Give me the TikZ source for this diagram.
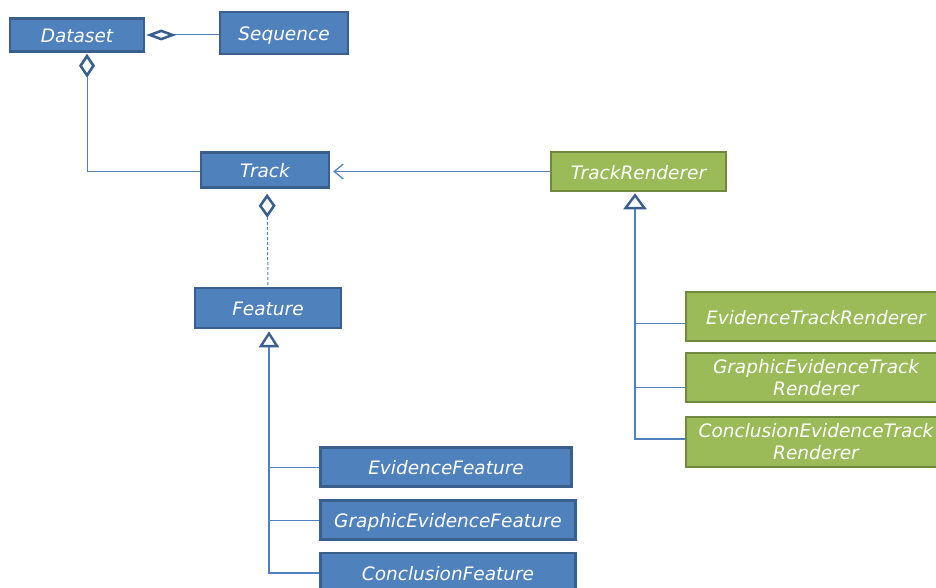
\documentclass[tikz,border=0pt]{standalone}
\usepackage{fontspec}
\setmainfont{DejaVu Sans}
\usetikzlibrary{arrows.meta}
\definecolor{clsblue}{HTML}{4F81BD}
\definecolor{clsblueedge}{HTML}{3A5F8B}
\definecolor{clsgreen}{HTML}{9BBB59}
\definecolor{clsgreenedge}{HTML}{71893F}
\definecolor{linkblue}{HTML}{4F81BD}
\definecolor{tipblue}{HTML}{3A5F8F}
\tikzset{
  cls/.style={draw=clsblueedge, fill=clsblue, line width=2.5pt, text=white,
    font=\fontsize{18.5}{22}\selectfont\itshape, inner sep=0pt, align=center},
  rcls/.style={cls, draw=clsgreenedge, fill=clsgreen},
  oneline/.style={text height=15pt, text depth=0pt},
  link/.style={draw=linkblue, line width=1pt},
  aggr/.style n args={2}{link, {Diamond[open, color=tipblue, line width=2.6pt, length=#1, width=#2]}-},
  gen/.style={link, line width=1.5pt, {Triangle[open, color=tipblue, line width=2.4pt, length=16pt, width=#1]}-},
  dep/.style={link, {Straight Barb[color=linkblue, line width=1.3pt, length=9pt, width=15pt]}-}
}
\begin{document}
\begin{tikzpicture}[x=1pt, y=-1pt]
  \useasboundingbox (0,0) rectangle (936,588);

  % class boxes
  \node[cls, oneline, minimum width=134pt, minimum height=33pt] (dataset) at (77,35) {Dataset};
  \node[cls, oneline, minimum width=128pt, minimum height=42pt] (sequence) at (284,33) {Sequence};
  \node[cls, oneline, minimum width=128pt, minimum height=35pt] (track) at (265,170) {Track};
  \node[cls, oneline, minimum width=146pt, minimum height=40pt] (feature) at (268,308) {Feature};
  \node[cls, oneline, minimum width=251pt, minimum height=39pt] (evfeat) at (446,467) {EvidenceFeature};
  \node[cls, oneline, minimum width=255pt, minimum height=39pt] (grfeat) at (448,520) {GraphicEvidenceFeature};
  \node[cls, oneline, minimum width=255pt, minimum height=40pt] (clfeat) at (448,573) {ConclusionFeature};

  \node[rcls, oneline, minimum width=175pt, minimum height=39pt] (renderer) at (638.5,171.5) {TrackRenderer};
  \node[rcls, oneline, minimum width=260pt, minimum height=49pt] (evrend) at (816,316.5) {EvidenceTrackRenderer};
  \node[rcls, minimum width=260pt, minimum height=49pt] (grrend) at (816,377.5) {GraphicEvidenceTrack\\Renderer};
  \node[rcls, minimum width=260pt, minimum height=50pt] (clrend) at (816,442) {ConclusionEvidenceTrack\\Renderer};

  % attachment points of the inheritance trunks
  \coordinate (ftrunk) at ([xshift=1pt]feature.south);
  \coordinate (rtrunk) at ([xshift=-3.5pt]renderer.south);

  % aggregations
  \draw[aggr={30pt}{11pt}, shorten <=1pt]
    (dataset.east) -- (dataset.east -| sequence.west);
  \draw[aggr={24pt}{16pt}, shorten <=1pt]
    ([xshift=10pt]dataset.south) |- ([yshift=-2pt]track.west);
  \draw[aggr={24pt}{17pt}, dash pattern=on 3pt off 2pt, shorten <=5pt]
    ([xshift=2pt]track.south) -- ([xshift=3pt]track.south |- feature.north);

  % renderer uses track
  \draw[dep, shorten <=3pt] ([yshift=-1.5pt]track.east) -- ([yshift=-1.5pt]track.east -| renderer.west);

  % feature hierarchy
  \draw[gen=20pt, shorten <=2pt] (ftrunk) |- (clfeat.west);
  \draw[link] (evfeat.west) -- (evfeat.west -| ftrunk);
  \draw[link] (grfeat.west) -- (grfeat.west -| ftrunk);

  % renderer hierarchy
  \draw[gen=23pt, shorten <=1pt] (rtrunk) |- ([yshift=3pt]clrend.west);
  \draw[link] ([yshift=-6.5pt]evrend.west) -- ([yshift=-6.5pt]evrend.west -| rtrunk);
  \draw[link] ([yshift=-9.5pt]grrend.west) -- ([yshift=-9.5pt]grrend.west -| rtrunk);
\end{tikzpicture}
\end{document}
